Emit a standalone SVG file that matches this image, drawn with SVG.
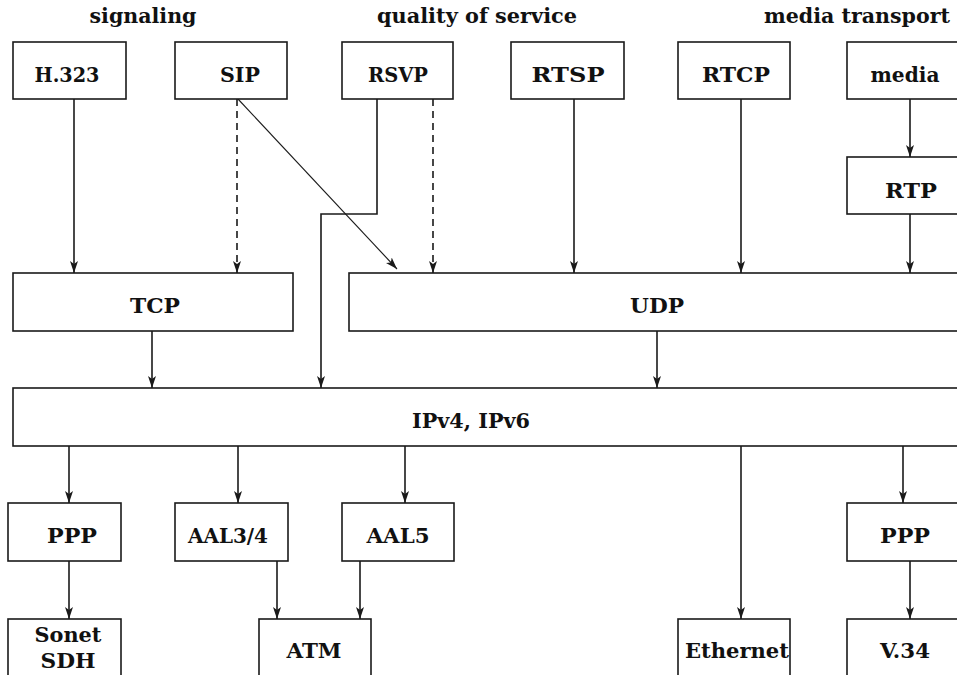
<svg xmlns="http://www.w3.org/2000/svg" width="957" height="675" viewBox="0 0 957 675">
<defs>
<style>
.box{fill:#fff;stroke:#1a1a1a;stroke-width:1.6}
.lbl{font-family:"DejaVu Serif","Liberation Serif",serif;font-weight:bold;font-size:19.5px;fill:#111;text-anchor:middle}
.hdr{font-family:"DejaVu Serif","Liberation Serif",serif;font-weight:bold;font-size:19.5px;fill:#111;text-anchor:middle}
.ln{fill:none;stroke:#1a1a1a;stroke-width:1.6}
.dash{stroke-dasharray:7,5}
.thin{stroke-width:1.1}
</style>
<marker id="ah" viewBox="0 0 12 8" refX="12" refY="4" markerWidth="12" markerHeight="8" markerUnits="userSpaceOnUse" orient="auto">
<path d="M0,0 L12,4 L0,8 L3,4 z" fill="#1a1a1a"/>
</marker>
</defs>
<rect width="957" height="675" fill="#fff"/>

<g id="headers">
<text class="hdr" x="143" y="23" textLength="107" lengthAdjust="spacingAndGlyphs">signaling</text>
<text class="hdr" x="477" y="23" textLength="200" lengthAdjust="spacingAndGlyphs">quality of service</text>
<text class="hdr" x="857" y="23" textLength="186" lengthAdjust="spacingAndGlyphs">media transport</text>
</g>

<g id="connectors">
<line class="ln" x1="74" y1="99" x2="74" y2="273" marker-end="url(#ah)"/>
<line class="ln dash" x1="237" y1="99" x2="237" y2="273" marker-end="url(#ah)"/>
<line class="ln thin" x1="238" y1="99" x2="397" y2="269" marker-end="url(#ah)"/>
<polyline class="ln" points="377,99 377,214 321,214 321,388" marker-end="url(#ah)"/>
<line class="ln dash" x1="433" y1="99" x2="433" y2="273" marker-end="url(#ah)"/>
<line class="ln" x1="574" y1="99" x2="574" y2="273" marker-end="url(#ah)"/>
<line class="ln" x1="741" y1="99" x2="741" y2="273" marker-end="url(#ah)"/>
<line class="ln" x1="910" y1="99" x2="910" y2="157" marker-end="url(#ah)"/>
<line class="ln" x1="910" y1="214" x2="910" y2="273" marker-end="url(#ah)"/>
<line class="ln" x1="152" y1="331" x2="152" y2="388" marker-end="url(#ah)"/>
<line class="ln" x1="657" y1="331" x2="657" y2="388" marker-end="url(#ah)"/>
<line class="ln" x1="69" y1="446" x2="69" y2="503" marker-end="url(#ah)"/>
<line class="ln" x1="238" y1="446" x2="238" y2="503" marker-end="url(#ah)"/>
<line class="ln" x1="405" y1="446" x2="405" y2="503" marker-end="url(#ah)"/>
<line class="ln" x1="741" y1="446" x2="741" y2="619" marker-end="url(#ah)"/>
<line class="ln" x1="903" y1="446" x2="903" y2="503" marker-end="url(#ah)"/>
<line class="ln" x1="69" y1="561" x2="69" y2="619" marker-end="url(#ah)"/>
<line class="ln" x1="277" y1="561" x2="277" y2="619" marker-end="url(#ah)"/>
<line class="ln" x1="360" y1="561" x2="360" y2="619" marker-end="url(#ah)"/>
<line class="ln" x1="910" y1="561" x2="910" y2="619" marker-end="url(#ah)"/>
</g>

<g id="h323"><rect class="box" x="13" y="42" width="113" height="57"/><text class="lbl" x="67" y="82" textLength="65" lengthAdjust="spacingAndGlyphs">H.323</text></g>
<g id="sip"><rect class="box" x="175" y="42" width="112" height="57"/><text class="lbl" x="240" y="82" textLength="40" lengthAdjust="spacingAndGlyphs">SIP</text></g>
<g id="rsvp"><rect class="box" x="342" y="42" width="111" height="57"/><text class="lbl" x="398" y="82" textLength="60" lengthAdjust="spacingAndGlyphs">RSVP</text></g>
<g id="rtsp"><rect class="box" x="511" y="42" width="113" height="57"/><text class="lbl" x="568" y="82" textLength="73" lengthAdjust="spacingAndGlyphs">RTSP</text></g>
<g id="rtcp"><rect class="box" x="678" y="42" width="112" height="57"/><text class="lbl" x="736" y="82" textLength="68" lengthAdjust="spacingAndGlyphs">RTCP</text></g>
<g id="media"><rect class="box" x="847" y="42" width="120" height="57"/><text class="lbl" x="905" y="82" textLength="69" lengthAdjust="spacingAndGlyphs">media</text></g>
<g id="rtp"><rect class="box" x="847" y="157" width="120" height="57"/><text class="lbl" x="911" y="198" textLength="52" lengthAdjust="spacingAndGlyphs">RTP</text></g>
<g id="tcp"><rect class="box" x="13" y="273" width="280" height="58"/><text class="lbl" x="155" y="313" textLength="50" lengthAdjust="spacingAndGlyphs">TCP</text></g>
<g id="udp"><rect class="box" x="349" y="273" width="620" height="58"/><text class="lbl" x="657" y="313" textLength="54" lengthAdjust="spacingAndGlyphs">UDP</text></g>
<g id="ip"><rect class="box" x="13" y="388" width="956" height="58"/><text class="lbl" x="471" y="428" textLength="118" lengthAdjust="spacingAndGlyphs">IPv4, IPv6</text></g>
<g id="ppp1"><rect class="box" x="8" y="503" width="113" height="58"/><text class="lbl" x="72" y="543" textLength="50" lengthAdjust="spacingAndGlyphs">PPP</text></g>
<g id="aal34"><rect class="box" x="175" y="503" width="113" height="58"/><text class="lbl" x="228" y="543" textLength="80" lengthAdjust="spacingAndGlyphs">AAL3/4</text></g>
<g id="aal5"><rect class="box" x="342" y="503" width="112" height="58"/><text class="lbl" x="398" y="543" textLength="63" lengthAdjust="spacingAndGlyphs">AAL5</text></g>
<g id="ppp2"><rect class="box" x="847" y="503" width="120" height="58"/><text class="lbl" x="905" y="543" textLength="50" lengthAdjust="spacingAndGlyphs">PPP</text></g>
<g id="sonet"><rect class="box" x="8" y="619" width="113" height="70"/><text class="lbl" x="68" y="642" textLength="67" lengthAdjust="spacingAndGlyphs">Sonet</text><text class="lbl" x="68" y="668" textLength="55" lengthAdjust="spacingAndGlyphs">SDH</text></g>
<g id="atm"><rect class="box" x="259" y="619" width="112" height="70"/><text class="lbl" x="314" y="658" textLength="55" lengthAdjust="spacingAndGlyphs">ATM</text></g>
<g id="ethernet"><rect class="box" x="678" y="619" width="112" height="70"/><text class="lbl" x="737" y="658" textLength="104" lengthAdjust="spacingAndGlyphs">Ethernet</text></g>
<g id="v34"><rect class="box" x="847" y="619" width="120" height="70"/><text class="lbl" x="905" y="658" textLength="50" lengthAdjust="spacingAndGlyphs">V.34</text></g>
</svg>
